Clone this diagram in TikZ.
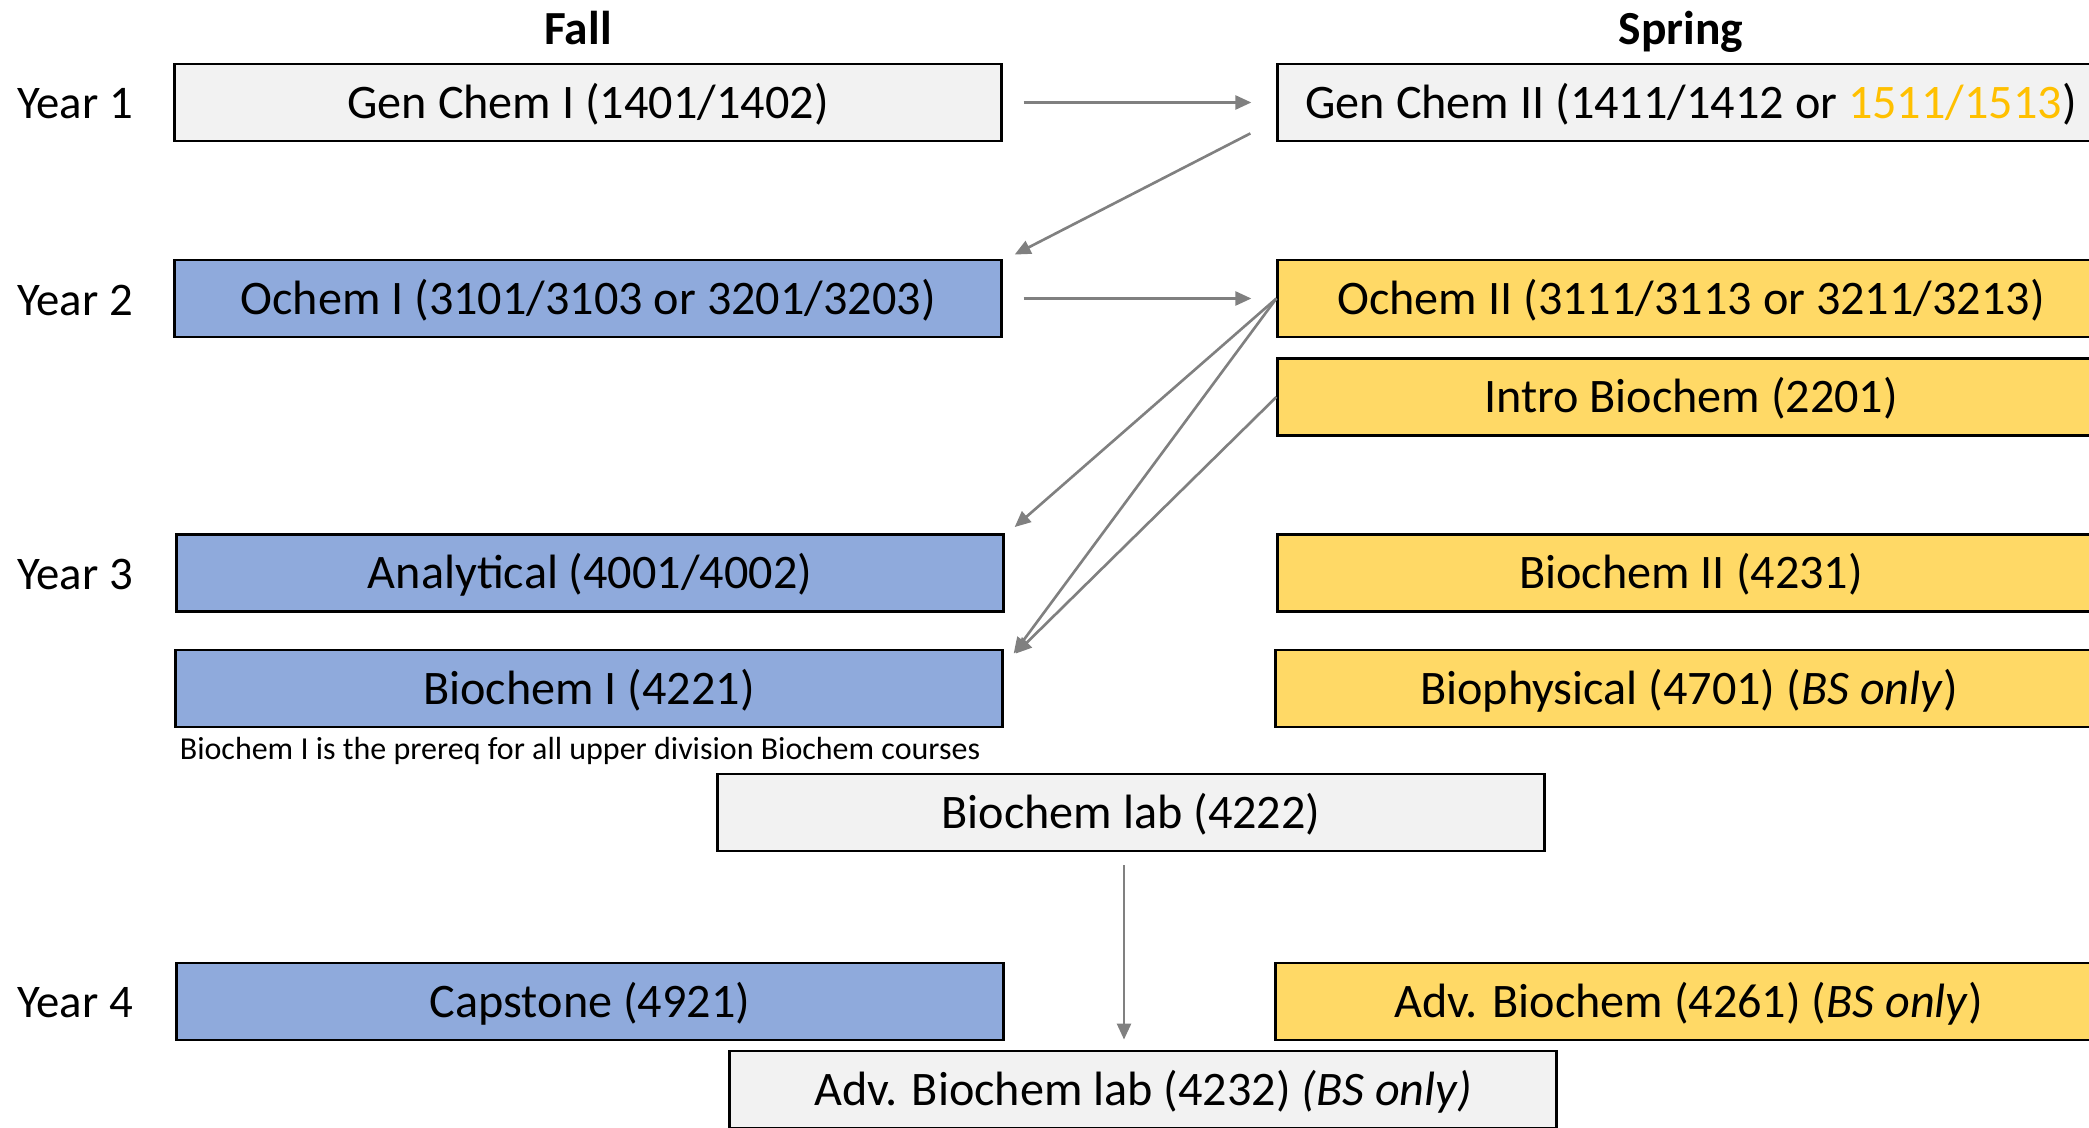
\documentclass[tikz,border=0pt]{standalone}
\usepackage{fontspec}
\setmainfont{Carlito}
\usetikzlibrary{arrows.meta}
\usetikzlibrary{calc}
\definecolor{labgray}{HTML}{F2F2F2}
\definecolor{fallblue}{HTML}{8FAADC}
\definecolor{springgold}{HTML}{FFD966}
\definecolor{honorsorange}{HTML}{FFC000}
\definecolor{arrowgray}{HTML}{808080}
\tikzset{
  course/.style={draw=black, line width=0.8pt, minimum width=8.26cm,
    minimum height=0.77cm, inner sep=0pt, fill=labgray,
    text height=11.6pt, text depth=2.6pt,
    font=\fontsize{13.7}{16}\selectfont},
  fallcourse/.style={course, fill=fallblue},
  springcourse/.style={course, fill=springgold},
  heading/.style={anchor=base, font=\fontsize{13.5}{16}\selectfont\bfseries},
  yearlabel/.style={font=\fontsize{13.3}{16}\selectfont},
  footnote/.style={font=\fontsize{9.1}{11}\selectfont, inner sep=0pt},
  prereq/.style={draw=arrowgray, line width=0.75pt,
    -{Triangle[length=0.16cm,width=0.14cm]}},
  across/.style={prereq, shorten <=0.21cm, shorten >=0.25cm}
}

\begin{document}
\begin{tikzpicture}[x=0.01cm,y=-0.01cm]
  \path[use as bounding box, clip] (0,0) rectangle (2089,1128);

  % column and row titles
  \node[heading] (fall) at (578,45) {Fall};
  \node[heading] (spring) at (1681,45) {Spring};
  \foreach \yr/\row in {1/104,2/300,3/574,4/1003} {
    \node[yearlabel] (year\yr) at (75,\row) {Year \yr};
  }

  % courses
  \node[course] (genchemI) at (588,102.5) {Gen Chem I (1401/1402)};
  \node[course] (genchemII) at (1691,102.5)
    {Gen Chem II (1411/1412 or \textcolor{honorsorange}{1511/1513})};
  \node[fallcourse] (ochemI) at (588,298.5) {Ochem I (3101/3103 or 3201/3203)};
  \node[springcourse] (ochemII) at (1691,298.5) {Ochem II (3111/3113 or 3211/3213)};
  \node[springcourse] (introbio) at (1691,397) {Intro Biochem (2201)};
  \node[fallcourse] (analytical) at (590,573) {Analytical (4001/4002)};
  \node[springcourse] (biochemII) at (1691,573) {Biochem II (4231)};
  \node[fallcourse] (biochemI) at (589,688.5) {Biochem I (4221)};
  \node[springcourse] (biophys) at (1689,688.5) {Biophysical (4701) (\textit{BS only})};
  \node[footnote] (prereqnote) at (580,751)
    {Biochem I is the prereq for all upper division Biochem courses};
  \node[course] (biolab) at (1131,812.5) {Biochem lab (4222)};
  \node[fallcourse] (capstone) at (590,1001.5) {Capstone (4921)};
  \node[springcourse] (advbio) at (1689,1001.5) {Adv. Biochem (4261) (\textit{BS only})};
  \node[course] (advlab) at (1143,1089.5) {Adv. Biochem lab (4232) \textit{(BS only)}};

  % prerequisites
  \draw[across] (genchemI) -- (genchemII);
  \draw[prereq] ($(genchemII.south west)+(-26,-9)$) -- ($(ochemI.north east)+(12,-4)$);
  \draw[across] (ochemI) -- (ochemII);
  \draw[prereq] (ochemII.west) -- ($(analytical.north east)+(10,-6)$);
  \draw[prereq] (ochemII.west) -- ($(biochemI.north east)+(10,5)$);
  \draw[prereq] (introbio.west) -- ($(biochemI.north east)+(12,5)$);
  \draw[prereq] ($(biolab.south)+(-7,13)$) -- ($(advlab.north)+(-19,-10)$);

\end{tikzpicture}
\end{document}
